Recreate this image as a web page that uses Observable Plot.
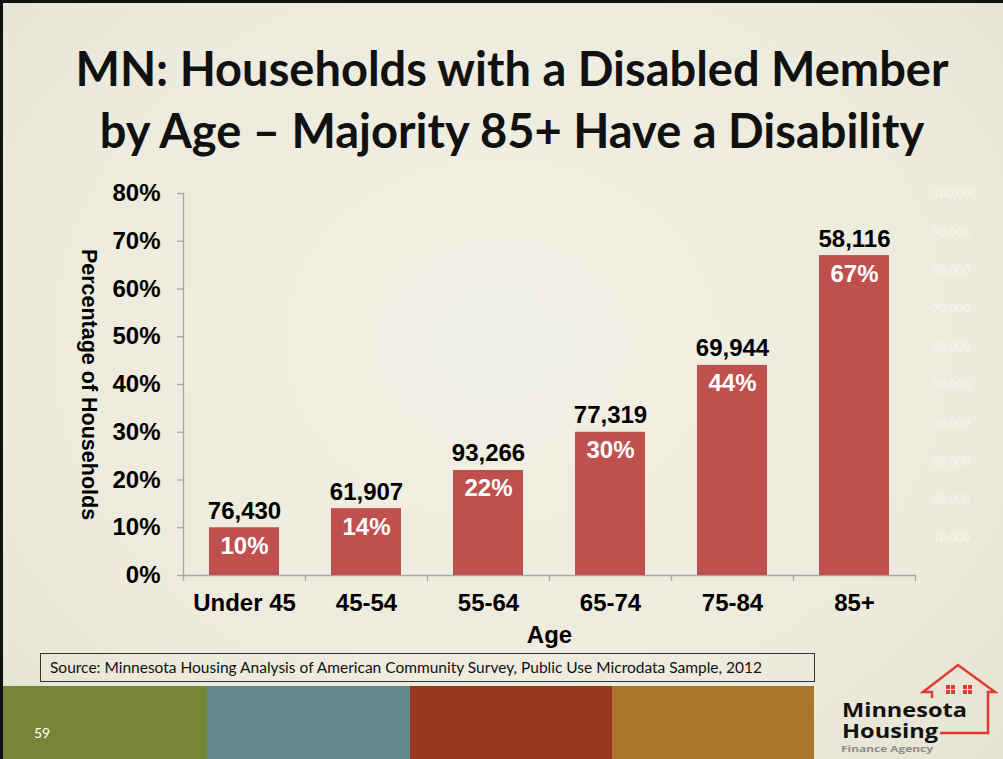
<!DOCTYPE html>
<html><head><meta charset="utf-8">
<script src="https://cdn.jsdelivr.net/npm/d3@7"></script>
<script src="https://cdn.jsdelivr.net/npm/@observablehq/plot@0.6"></script>
<style>
html,body{margin:0;padding:0;}
body{width:1003px;height:759px;overflow:hidden;position:relative;
 background: radial-gradient(ellipse at 50% 45%, #f1f0e4 0%, #ecebdd 65%, #e5e4d3 100%);
 font-family: Arial, "Liberation Sans", sans-serif;}
#frame{position:absolute;left:0;top:0;width:1003px;height:759px;border-left:3px solid #111;border-top:3px solid #111;box-sizing:border-box;pointer-events:none;z-index:5;}
#title{position:absolute;left:12px;width:1000px;top:37px;text-align:center;font-family:Lato,"Open Sans",sans-serif;font-weight:bold;font-size:47px;line-height:62px;color:#111;}
#chart{position:absolute;left:0;top:170px;}
#source{position:absolute;left:40px;top:653px;width:775px;height:29px;box-sizing:border-box;border:1.5px solid #333;font-family:Lato,sans-serif;font-size:15.5px;line-height:26px;padding-left:9px;color:#111;background:transparent;white-space:nowrap;}
.band{position:absolute;top:686px;height:73px;}
#pagenum{position:absolute;left:34px;top:724px;color:#fff;font-family:Lato,sans-serif;font-size:14px;}
#logo{position:absolute;left:800px;top:650px;}
</style></head>
<body>
<div id="frame"></div>
<div id="title">MN: Households with a Disabled Member<br>by Age – Majority 85+ Have a Disability</div>
<div id="chart"></div>
<div id="source">Source: Minnesota Housing Analysis of American Community Survey, Public Use Microdata Sample, 2012</div>
<div class="band" style="left:0;width:207px;background:#768536"></div>
<div class="band" style="left:207px;width:203px;background:#62888a"></div>
<div class="band" style="left:410px;width:202px;background:#98361f"></div>
<div class="band" style="left:612px;width:202px;background:#a9772c"></div>
<div id="pagenum">59</div>
<svg id="logo" width="203" height="109" viewBox="0 0 203 109">
  <polyline points="132,48 132,42 123,42 158,15 195,42 188,42 188,83 140,83" fill="none" stroke="#e23a2e" stroke-width="2.5" stroke-linejoin="miter"/>
  <rect x="146" y="35" width="9" height="9" fill="#e23a2e"/><rect x="163" y="35" width="9" height="9" fill="#e23a2e"/>
  <line x1="145" y1="39.5" x2="173" y2="39.5" stroke="#ecebdd" stroke-width="1"/>
  <line x1="150.5" y1="34" x2="150.5" y2="45" stroke="#ecebdd" stroke-width="1"/>
  <line x1="167.5" y1="34" x2="167.5" y2="45" stroke="#ecebdd" stroke-width="1"/>
  <text x="42" y="67" font-family="'Open Sans',sans-serif" font-weight="bold" font-size="20" fill="#111" textLength="125" lengthAdjust="spacingAndGlyphs">Minnesota</text>
  <text x="42" y="88" font-family="'Open Sans',sans-serif" font-weight="bold" font-size="19" fill="#111" textLength="96" lengthAdjust="spacingAndGlyphs">Housing</text>
  <text x="41" y="102" font-family="'Open Sans',sans-serif" font-weight="bold" font-size="9" fill="#8c8c88" textLength="92" lengthAdjust="spacingAndGlyphs">Finance Agency</text>
</svg>
<script>
const ages = ["Under 45", "45-54", "55-64", "65-74", "75-84", "85+"];
const pctValues = [10, 14, 22, 30, 44, 67];
const households = [76430, 61907, 93266, 77319, 69944, 58116];
const pctTicks = [0, 10, 20, 30, 40, 50, 60, 70, 80];
const countTicks = [0, 10000, 20000, 30000, 40000, 50000, 60000, 70000, 80000, 90000, 100000];
const countMax = 100000;
const pctMax = 80;

const data = ages.map((a, i) => ({age: a, pct: pctValues[i], count: households[i]}));
const fmt = d3.format(",");
const gray = "#a6a6a6";

const chart = Plot.plot({
  width: 1003, height: 490,
  marginLeft: 183, marginRight: 88, marginTop: 23, marginBottom: 85,
  style: {background: "transparent", fontFamily: "Arial, 'Liberation Sans', sans-serif", overflow: "visible"},
  x: {domain: ages, padding: 0, label: null},
  y: {domain: [0, pctMax], label: null},
  marks: [
    Plot.frame({anchor: "left", stroke: gray, strokeWidth: 1.3}),
    Plot.ruleY([0], {stroke: gray, strokeWidth: 1.3}),
    Plot.ruleX(ages, {x: d => d, dx: -61, y1: 0, y2: 0, insetBottom: -6, stroke: gray, strokeWidth: 1.3}),
    Plot.ruleX([ages[ages.length - 1]], {x: d => d, dx: 61, y1: 0, y2: 0, insetBottom: -6, stroke: gray, strokeWidth: 1.3}),
    Plot.axisY({ticks: pctTicks, tickSize: 6, tickFormat: () => "", color: gray, strokeWidth: 1.3}),
    Plot.axisY({ticks: pctTicks, tickSize: 0, tickPadding: 23, tickFormat: d => d + "%", fontSize: 24, fontWeight: "bold", color: "#000"}),
    Plot.axisY({anchor: "right", ticks: countTicks.map(c => c / countMax * pctMax), tickSize: 0, tickPadding: 17,
      tickFormat: d => d === 0 ? "-" : fmt(Math.round(d / pctMax * countMax)),
      fontSize: 12, fontFamily: "Lato, sans-serif", color: "#f7f6ee", textAnchor: "start"}),
    Plot.axisX({tickSize: 0, tickPadding: 18, fontSize: 24, fontWeight: "bold", color: "#000", label: null}),
    Plot.barY(data, {x: "age", y: "pct", fill: "#c0504d", insetLeft: 26, insetRight: 26}),
    Plot.text(data, {x: "age", y: "pct", text: d => fmt(d.count), lineAnchor: "bottom", dy: -9, fontSize: 24, fontWeight: "bold", fill: "#000"}),
    Plot.text(data, {x: "age", y: "pct", text: d => d.pct + "%", lineAnchor: "top", dy: 9, fontSize: 24, fontWeight: "bold", fill: "#fff"}),
    Plot.text(["Age"], {frameAnchor: "bottom", dy: 67, fontSize: 24, fontWeight: "bold", fill: "#000"}),
    Plot.text(["Percentage of Households"], {frameAnchor: "left", textAnchor: "middle", dx: -95, rotate: 90, fontSize: 21.5, fontWeight: "bold", fill: "#000"})
  ]
});
document.getElementById("chart").appendChild(chart);
</script>
</body></html>
